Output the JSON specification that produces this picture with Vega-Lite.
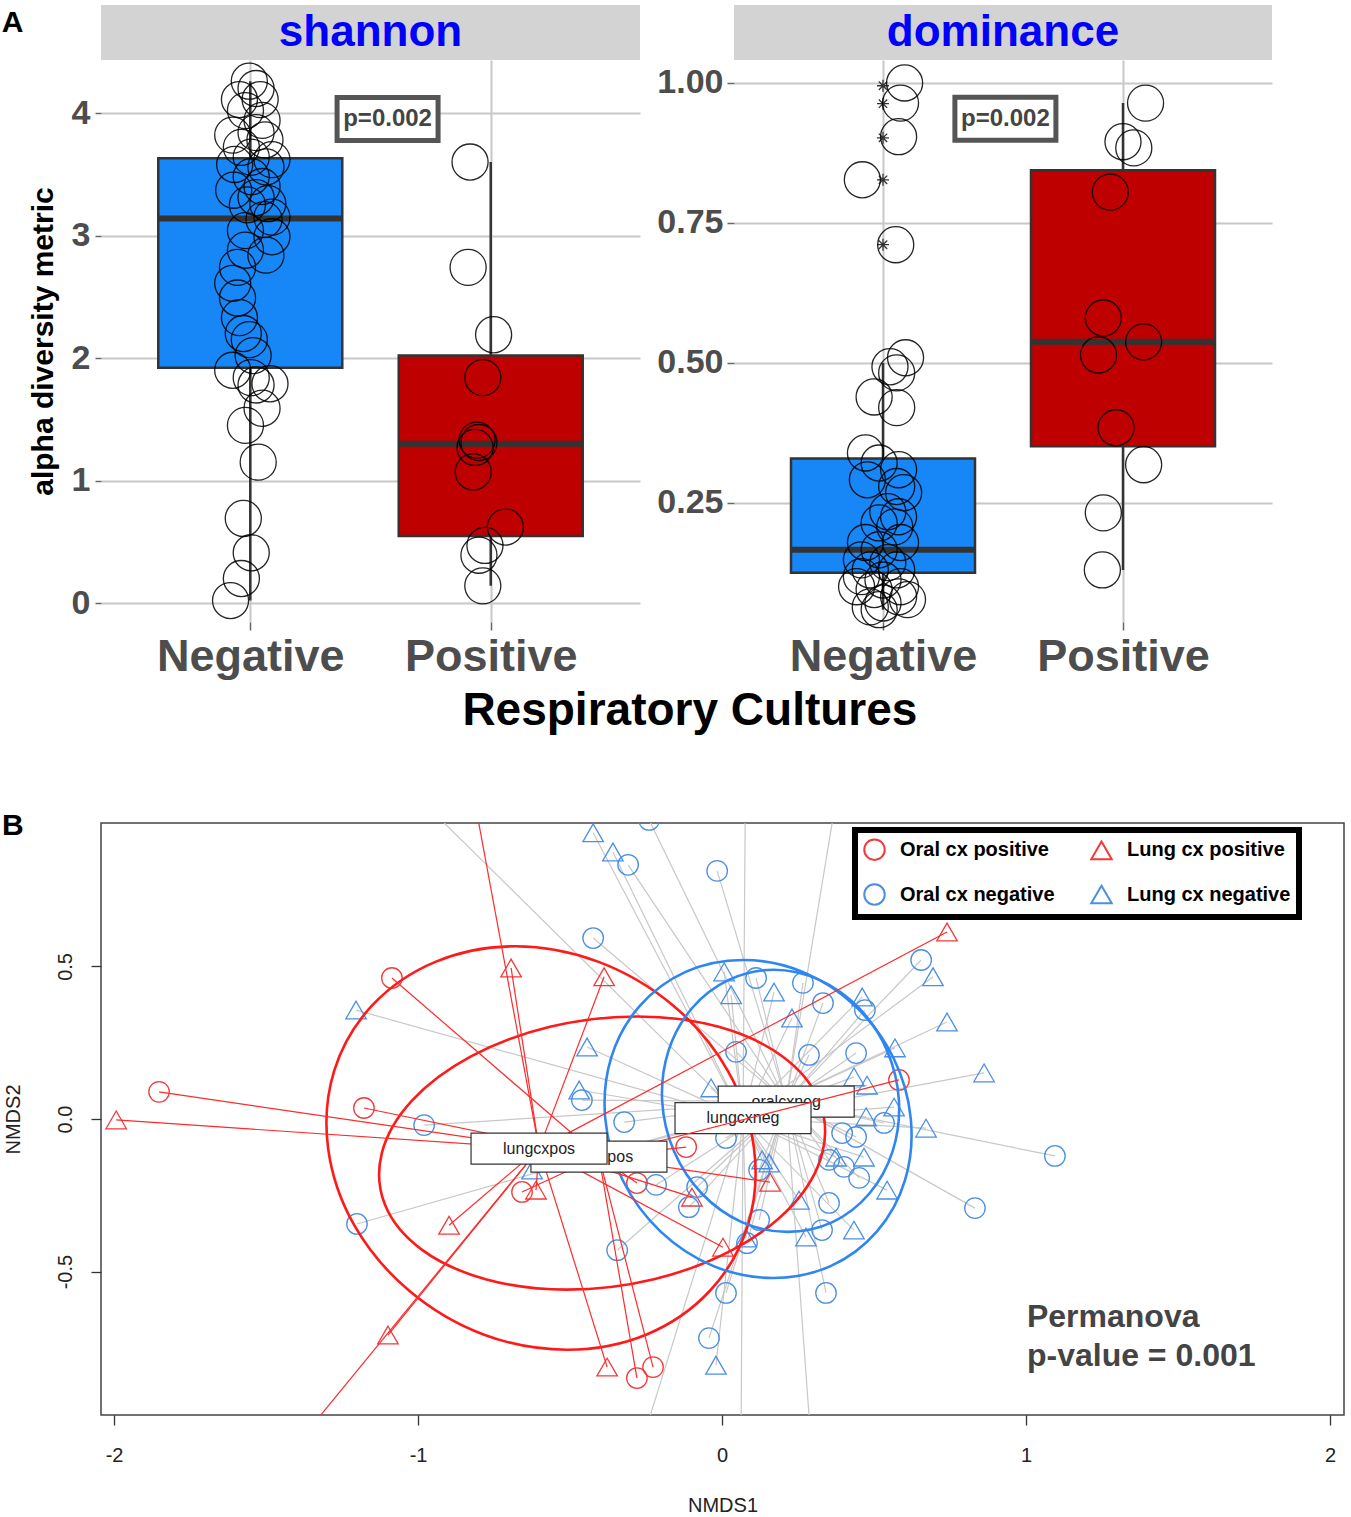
{
  "$schema": "https://vega.github.io/schema/vega-lite/v6.json",
  "background": "white",
  "padding": {"left": 1, "top": 5, "right": 2, "bottom": 2},
  "config": {
    "font": "Liberation Sans",
    "view": {"stroke": null},
    "axis": {"labelFont": "Liberation Sans", "titleFont": "Liberation Sans"},
    "title": {"font": "Liberation Sans"},
    "legend": {"labelFont": "Liberation Sans", "strokeWidth": 6}
  },
  "datasets": {
    "stats": [
      {"metric": "shannon", "culture": "Negative", "pos": 1, "lower": 0.02, "q1": 1.92, "median": 3.14, "q3": 3.63, "upper": 4.26},
      {"metric": "shannon", "culture": "Positive", "pos": 2, "lower": 0.14, "q1": 0.547, "median": 1.30, "q3": 2.02, "upper": 3.60},
      {"metric": "dominance", "culture": "Negative", "pos": 1, "lower": 0.059, "q1": 0.125, "median": 0.166, "q3": 0.329, "upper": 0.50},
      {"metric": "dominance", "culture": "Positive", "pos": 2, "lower": 0.13, "q1": 0.351, "median": 0.5375, "q3": 0.844, "upper": 0.964}
    ],
    "outliers": [
      {"metric": "dominance", "culture": "Negative", "pos": 1, "value": 0.995},
      {"metric": "dominance", "culture": "Negative", "pos": 1, "value": 0.963},
      {"metric": "dominance", "culture": "Negative", "pos": 1, "value": 0.902},
      {"metric": "dominance", "culture": "Negative", "pos": 1, "value": 0.827},
      {"metric": "dominance", "culture": "Negative", "pos": 1, "value": 0.711}
    ],
    "annot": [
      {"metric": "shannon", "label": "p=0.002", "pos": 1.571, "value": 3.951},
      {"metric": "dominance", "label": "p=0.002", "pos": 1.51, "value": 0.936}
    ],
    "apoints": [
      {"metric": "shannon", "culture": "Negative", "pos": 0.996, "value": 4.26},
      {"metric": "shannon", "culture": "Negative", "pos": 1.024, "value": 4.20},
      {"metric": "shannon", "culture": "Negative", "pos": 0.955, "value": 4.11},
      {"metric": "shannon", "culture": "Negative", "pos": 1.041, "value": 4.11},
      {"metric": "shannon", "culture": "Negative", "pos": 0.980, "value": 4.02},
      {"metric": "shannon", "culture": "Negative", "pos": 1.049, "value": 3.94},
      {"metric": "shannon", "culture": "Negative", "pos": 0.927, "value": 3.82},
      {"metric": "shannon", "culture": "Negative", "pos": 1.024, "value": 3.84},
      {"metric": "shannon", "culture": "Negative", "pos": 0.963, "value": 3.72},
      {"metric": "shannon", "culture": "Negative", "pos": 1.090, "value": 3.62},
      {"metric": "shannon", "culture": "Negative", "pos": 1.004, "value": 3.64},
      {"metric": "shannon", "culture": "Negative", "pos": 0.935, "value": 3.58},
      {"metric": "shannon", "culture": "Negative", "pos": 1.065, "value": 3.56},
      {"metric": "shannon", "culture": "Negative", "pos": 1.004, "value": 3.48},
      {"metric": "shannon", "culture": "Negative", "pos": 1.049, "value": 3.40},
      {"metric": "shannon", "culture": "Negative", "pos": 1.024, "value": 3.31},
      {"metric": "shannon", "culture": "Negative", "pos": 1.073, "value": 3.26},
      {"metric": "shannon", "culture": "Negative", "pos": 1.090, "value": 3.15},
      {"metric": "shannon", "culture": "Negative", "pos": 1.057, "value": 3.13},
      {"metric": "shannon", "culture": "Negative", "pos": 1.090, "value": 2.99},
      {"metric": "shannon", "culture": "Negative", "pos": 0.980, "value": 3.04},
      {"metric": "shannon", "culture": "Negative", "pos": 0.980, "value": 2.88},
      {"metric": "shannon", "culture": "Negative", "pos": 0.947, "value": 2.74},
      {"metric": "shannon", "culture": "Negative", "pos": 0.927, "value": 2.61},
      {"metric": "shannon", "culture": "Negative", "pos": 0.947, "value": 2.49},
      {"metric": "shannon", "culture": "Negative", "pos": 0.955, "value": 2.33},
      {"metric": "shannon", "culture": "Negative", "pos": 0.996, "value": 2.15},
      {"metric": "shannon", "culture": "Negative", "pos": 0.971, "value": 2.20},
      {"metric": "shannon", "culture": "Negative", "pos": 0.927, "value": 1.90},
      {"metric": "shannon", "culture": "Negative", "pos": 1.004, "value": 1.84},
      {"metric": "shannon", "culture": "Negative", "pos": 1.082, "value": 1.79},
      {"metric": "shannon", "culture": "Negative", "pos": 1.024, "value": 1.78},
      {"metric": "shannon", "culture": "Negative", "pos": 1.049, "value": 1.59},
      {"metric": "shannon", "culture": "Negative", "pos": 0.980, "value": 1.45},
      {"metric": "shannon", "culture": "Negative", "pos": 1.033, "value": 1.15},
      {"metric": "shannon", "culture": "Negative", "pos": 0.971, "value": 0.69},
      {"metric": "shannon", "culture": "Negative", "pos": 1.004, "value": 0.41},
      {"metric": "shannon", "culture": "Negative", "pos": 0.963, "value": 0.20},
      {"metric": "shannon", "culture": "Negative", "pos": 0.918, "value": 0.02},
      {"metric": "shannon", "culture": "Negative", "pos": 1.061, "value": 3.78},
      {"metric": "shannon", "culture": "Negative", "pos": 0.988, "value": 3.25},
      {"metric": "shannon", "culture": "Negative", "pos": 0.931, "value": 3.37},
      {"metric": "shannon", "culture": "Negative", "pos": 1.065, "value": 2.84},
      {"metric": "shannon", "culture": "Negative", "pos": 1.012, "value": 2.02},
      {"metric": "shannon", "culture": "Positive", "pos": 1.914, "value": 3.60},
      {"metric": "shannon", "culture": "Positive", "pos": 1.906, "value": 2.74},
      {"metric": "shannon", "culture": "Positive", "pos": 2.012, "value": 2.19},
      {"metric": "shannon", "culture": "Positive", "pos": 1.967, "value": 1.84},
      {"metric": "shannon", "culture": "Positive", "pos": 1.943, "value": 1.33},
      {"metric": "shannon", "culture": "Positive", "pos": 1.935, "value": 1.27},
      {"metric": "shannon", "culture": "Positive", "pos": 1.951, "value": 1.31},
      {"metric": "shannon", "culture": "Positive", "pos": 1.927, "value": 1.07},
      {"metric": "shannon", "culture": "Positive", "pos": 2.061, "value": 0.62},
      {"metric": "shannon", "culture": "Positive", "pos": 1.976, "value": 0.47},
      {"metric": "shannon", "culture": "Positive", "pos": 1.951, "value": 0.39},
      {"metric": "shannon", "culture": "Positive", "pos": 1.967, "value": 0.14},
      {"metric": "dominance", "culture": "Negative", "pos": 1.090, "value": 1.000},
      {"metric": "dominance", "culture": "Negative", "pos": 1.073, "value": 0.964},
      {"metric": "dominance", "culture": "Negative", "pos": 1.065, "value": 0.904},
      {"metric": "dominance", "culture": "Negative", "pos": 0.914, "value": 0.827},
      {"metric": "dominance", "culture": "Negative", "pos": 1.053, "value": 0.711},
      {"metric": "dominance", "culture": "Negative", "pos": 1.094, "value": 0.509},
      {"metric": "dominance", "culture": "Negative", "pos": 1.029, "value": 0.493},
      {"metric": "dominance", "culture": "Negative", "pos": 1.057, "value": 0.482},
      {"metric": "dominance", "culture": "Negative", "pos": 0.963, "value": 0.439},
      {"metric": "dominance", "culture": "Negative", "pos": 1.057, "value": 0.420},
      {"metric": "dominance", "culture": "Negative", "pos": 0.927, "value": 0.339},
      {"metric": "dominance", "culture": "Negative", "pos": 0.984, "value": 0.321},
      {"metric": "dominance", "culture": "Negative", "pos": 1.065, "value": 0.309},
      {"metric": "dominance", "culture": "Negative", "pos": 0.935, "value": 0.291},
      {"metric": "dominance", "culture": "Negative", "pos": 1.057, "value": 0.279},
      {"metric": "dominance", "culture": "Negative", "pos": 1.086, "value": 0.268},
      {"metric": "dominance", "culture": "Negative", "pos": 1.020, "value": 0.234},
      {"metric": "dominance", "culture": "Negative", "pos": 1.065, "value": 0.225},
      {"metric": "dominance", "culture": "Negative", "pos": 0.984, "value": 0.214},
      {"metric": "dominance", "culture": "Negative", "pos": 1.049, "value": 0.207},
      {"metric": "dominance", "culture": "Negative", "pos": 0.927, "value": 0.179},
      {"metric": "dominance", "culture": "Negative", "pos": 1.073, "value": 0.179},
      {"metric": "dominance", "culture": "Negative", "pos": 0.984, "value": 0.166},
      {"metric": "dominance", "culture": "Negative", "pos": 0.910, "value": 0.148},
      {"metric": "dominance", "culture": "Negative", "pos": 1.020, "value": 0.143},
      {"metric": "dominance", "culture": "Negative", "pos": 0.947, "value": 0.130},
      {"metric": "dominance", "culture": "Negative", "pos": 1.057, "value": 0.130},
      {"metric": "dominance", "culture": "Negative", "pos": 0.910, "value": 0.118},
      {"metric": "dominance", "culture": "Negative", "pos": 1.000, "value": 0.112},
      {"metric": "dominance", "culture": "Negative", "pos": 1.073, "value": 0.100},
      {"metric": "dominance", "culture": "Negative", "pos": 0.963, "value": 0.095},
      {"metric": "dominance", "culture": "Negative", "pos": 0.890, "value": 0.100},
      {"metric": "dominance", "culture": "Negative", "pos": 1.065, "value": 0.082},
      {"metric": "dominance", "culture": "Negative", "pos": 1.000, "value": 0.071},
      {"metric": "dominance", "culture": "Negative", "pos": 0.947, "value": 0.064},
      {"metric": "dominance", "culture": "Negative", "pos": 0.984, "value": 0.059},
      {"metric": "dominance", "culture": "Negative", "pos": 1.102, "value": 0.077},
      {"metric": "dominance", "culture": "Positive", "pos": 2.094, "value": 0.964},
      {"metric": "dominance", "culture": "Positive", "pos": 2.000, "value": 0.895},
      {"metric": "dominance", "culture": "Positive", "pos": 2.045, "value": 0.884},
      {"metric": "dominance", "culture": "Positive", "pos": 1.947, "value": 0.805},
      {"metric": "dominance", "culture": "Positive", "pos": 1.918, "value": 0.580},
      {"metric": "dominance", "culture": "Positive", "pos": 2.086, "value": 0.5375},
      {"metric": "dominance", "culture": "Positive", "pos": 1.898, "value": 0.514},
      {"metric": "dominance", "culture": "Positive", "pos": 1.971, "value": 0.384},
      {"metric": "dominance", "culture": "Positive", "pos": 2.086, "value": 0.318},
      {"metric": "dominance", "culture": "Positive", "pos": 1.918, "value": 0.232},
      {"metric": "dominance", "culture": "Positive", "pos": 1.914, "value": 0.130}
    ],
    "centroids": [
      {"label": "lungcxpos", "grp": "Lung cx positive", "NMDS1": -0.602, "NMDS2": -0.097},
      {"label": "oralcxpos", "grp": "Oral cx positive", "NMDS1": -0.405, "NMDS2": -0.123},
      {"label": "lungcxneg", "grp": "Lung cx negative", "NMDS1": 0.069, "NMDS2": 0.003},
      {"label": "oralcxneg", "grp": "Oral cx negative", "NMDS1": 0.211, "NMDS2": 0.057}
    ],
    "permanova": [
      {"line": "Permanova", "NMDS1": 1.003, "NMDS2": -0.649},
      {"line": "p-value = 0.001", "NMDS1": 1.003, "NMDS2": -0.777}
    ],
    "ellipses": [
      {"ell": "lungcxpos", "side": "pos", "i": 0, "NMDS1": 0.105, "NMDS2": -0.095},
      {"ell": "lungcxpos", "side": "pos", "i": 1, "NMDS1": 0.019, "NMDS2": 0.158},
      {"ell": "lungcxpos", "side": "pos", "i": 2, "NMDS1": -0.161, "NMDS2": 0.372},
      {"ell": "lungcxpos", "side": "pos", "i": 3, "NMDS1": -0.406, "NMDS2": 0.515},
      {"ell": "lungcxpos", "side": "pos", "i": 4, "NMDS1": -0.681, "NMDS2": 0.566},
      {"ell": "lungcxpos", "side": "pos", "i": 5, "NMDS1": -0.943, "NMDS2": 0.515},
      {"ell": "lungcxpos", "side": "pos", "i": 6, "NMDS1": -1.151, "NMDS2": 0.372},
      {"ell": "lungcxpos", "side": "pos", "i": 7, "NMDS1": -1.276, "NMDS2": 0.158},
      {"ell": "lungcxpos", "side": "pos", "i": 8, "NMDS1": -1.296, "NMDS2": -0.095},
      {"ell": "lungcxpos", "side": "pos", "i": 9, "NMDS1": -1.210, "NMDS2": -0.348},
      {"ell": "lungcxpos", "side": "pos", "i": 10, "NMDS1": -1.030, "NMDS2": -0.562},
      {"ell": "lungcxpos", "side": "pos", "i": 11, "NMDS1": -0.785, "NMDS2": -0.706},
      {"ell": "lungcxpos", "side": "pos", "i": 12, "NMDS1": -0.510, "NMDS2": -0.756},
      {"ell": "lungcxpos", "side": "pos", "i": 13, "NMDS1": -0.248, "NMDS2": -0.706},
      {"ell": "lungcxpos", "side": "pos", "i": 14, "NMDS1": -0.039, "NMDS2": -0.562},
      {"ell": "lungcxpos", "side": "pos", "i": 15, "NMDS1": 0.085, "NMDS2": -0.348},
      {"ell": "oralcxpos", "side": "pos", "i": 0, "NMDS1": 0.330, "NMDS2": -0.111},
      {"ell": "oralcxpos", "side": "pos", "i": 1, "NMDS1": 0.319, "NMDS2": 0.060},
      {"ell": "oralcxpos", "side": "pos", "i": 2, "NMDS1": 0.199, "NMDS2": 0.205},
      {"ell": "oralcxpos", "side": "pos", "i": 3, "NMDS1": -0.011, "NMDS2": 0.302},
      {"ell": "oralcxpos", "side": "pos", "i": 4, "NMDS1": -0.280, "NMDS2": 0.336},
      {"ell": "oralcxpos", "side": "pos", "i": 5, "NMDS1": -0.566, "NMDS2": 0.302},
      {"ell": "oralcxpos", "side": "pos", "i": 6, "NMDS1": -0.826, "NMDS2": 0.205},
      {"ell": "oralcxpos", "side": "pos", "i": 7, "NMDS1": -1.020, "NMDS2": 0.060},
      {"ell": "oralcxpos", "side": "pos", "i": 8, "NMDS1": -1.119, "NMDS2": -0.111},
      {"ell": "oralcxpos", "side": "pos", "i": 9, "NMDS1": -1.108, "NMDS2": -0.283},
      {"ell": "oralcxpos", "side": "pos", "i": 10, "NMDS1": -0.988, "NMDS2": -0.428},
      {"ell": "oralcxpos", "side": "pos", "i": 11, "NMDS1": -0.778, "NMDS2": -0.525},
      {"ell": "oralcxpos", "side": "pos", "i": 12, "NMDS1": -0.510, "NMDS2": -0.559},
      {"ell": "oralcxpos", "side": "pos", "i": 13, "NMDS1": -0.224, "NMDS2": -0.525},
      {"ell": "oralcxpos", "side": "pos", "i": 14, "NMDS1": 0.036, "NMDS2": -0.428},
      {"ell": "oralcxpos", "side": "pos", "i": 15, "NMDS1": 0.231, "NMDS2": -0.283},
      {"ell": "lungcxneg", "side": "neg", "i": 0, "NMDS1": 0.621, "NMDS2": 0.000},
      {"ell": "lungcxneg", "side": "neg", "i": 1, "NMDS1": 0.564, "NMDS2": 0.200},
      {"ell": "lungcxneg", "side": "neg", "i": 2, "NMDS1": 0.439, "NMDS2": 0.369},
      {"ell": "lungcxneg", "side": "neg", "i": 3, "NMDS1": 0.265, "NMDS2": 0.482},
      {"ell": "lungcxneg", "side": "neg", "i": 4, "NMDS1": 0.069, "NMDS2": 0.521},
      {"ell": "lungcxneg", "side": "neg", "i": 5, "NMDS1": -0.120, "NMDS2": 0.482},
      {"ell": "lungcxneg", "side": "neg", "i": 6, "NMDS1": -0.272, "NMDS2": 0.369},
      {"ell": "lungcxneg", "side": "neg", "i": 7, "NMDS1": -0.365, "NMDS2": 0.200},
      {"ell": "lungcxneg", "side": "neg", "i": 8, "NMDS1": -0.384, "NMDS2": 0.000},
      {"ell": "lungcxneg", "side": "neg", "i": 9, "NMDS1": -0.327, "NMDS2": -0.200},
      {"ell": "lungcxneg", "side": "neg", "i": 10, "NMDS1": -0.202, "NMDS2": -0.369},
      {"ell": "lungcxneg", "side": "neg", "i": 11, "NMDS1": -0.028, "NMDS2": -0.482},
      {"ell": "lungcxneg", "side": "neg", "i": 12, "NMDS1": 0.168, "NMDS2": -0.521},
      {"ell": "lungcxneg", "side": "neg", "i": 13, "NMDS1": 0.357, "NMDS2": -0.482},
      {"ell": "lungcxneg", "side": "neg", "i": 14, "NMDS1": 0.509, "NMDS2": -0.369},
      {"ell": "lungcxneg", "side": "neg", "i": 15, "NMDS1": 0.602, "NMDS2": -0.200},
      {"ell": "oralcxneg", "side": "neg", "i": 0, "NMDS1": 0.582, "NMDS2": 0.059},
      {"ell": "oralcxneg", "side": "neg", "i": 1, "NMDS1": 0.543, "NMDS2": 0.224},
      {"ell": "oralcxneg", "side": "neg", "i": 2, "NMDS1": 0.451, "NMDS2": 0.363},
      {"ell": "oralcxneg", "side": "neg", "i": 3, "NMDS1": 0.320, "NMDS2": 0.456},
      {"ell": "oralcxneg", "side": "neg", "i": 4, "NMDS1": 0.169, "NMDS2": 0.489},
      {"ell": "oralcxneg", "side": "neg", "i": 5, "NMDS1": 0.022, "NMDS2": 0.456},
      {"ell": "oralcxneg", "side": "neg", "i": 6, "NMDS1": -0.099, "NMDS2": 0.363},
      {"ell": "oralcxneg", "side": "neg", "i": 7, "NMDS1": -0.176, "NMDS2": 0.224},
      {"ell": "oralcxneg", "side": "neg", "i": 8, "NMDS1": -0.197, "NMDS2": 0.059},
      {"ell": "oralcxneg", "side": "neg", "i": 9, "NMDS1": -0.158, "NMDS2": -0.106},
      {"ell": "oralcxneg", "side": "neg", "i": 10, "NMDS1": -0.066, "NMDS2": -0.245},
      {"ell": "oralcxneg", "side": "neg", "i": 11, "NMDS1": 0.065, "NMDS2": -0.338},
      {"ell": "oralcxneg", "side": "neg", "i": 12, "NMDS1": 0.215, "NMDS2": -0.370},
      {"ell": "oralcxneg", "side": "neg", "i": 13, "NMDS1": 0.363, "NMDS2": -0.338},
      {"ell": "oralcxneg", "side": "neg", "i": 14, "NMDS1": 0.484, "NMDS2": -0.245},
      {"ell": "oralcxneg", "side": "neg", "i": 15, "NMDS1": 0.561, "NMDS2": -0.106}
    ],
    "nmds": [
      {"grp": "Oral cx positive", "NMDS1": -1.086, "NMDS2": 0.462},
      {"grp": "Oral cx positive", "NMDS1": -1.852, "NMDS2": 0.089},
      {"grp": "Oral cx positive", "NMDS1": -1.178, "NMDS2": 0.036},
      {"grp": "Oral cx positive", "NMDS1": -0.658, "NMDS2": -0.239},
      {"grp": "Oral cx positive", "NMDS1": -0.280, "NMDS2": -0.210},
      {"grp": "Oral cx positive", "NMDS1": -0.118, "NMDS2": -0.092},
      {"grp": "Oral cx positive", "NMDS1": 0.582, "NMDS2": 0.128},
      {"grp": "Oral cx positive", "NMDS1": -0.280, "NMDS2": -0.849},
      {"grp": "Oral cx positive", "NMDS1": -0.227, "NMDS2": -0.813},
      {"grp": "Lung cx positive", "NMDS1": -1.993, "NMDS2": -0.003},
      {"grp": "Lung cx positive", "NMDS1": -0.694, "NMDS2": 0.495},
      {"grp": "Lung cx positive", "NMDS1": -0.388, "NMDS2": 0.466},
      {"grp": "Lung cx positive", "NMDS1": 0.740, "NMDS2": 0.613},
      {"grp": "Lung cx positive", "NMDS1": -0.898, "NMDS2": -0.348},
      {"grp": "Lung cx positive", "NMDS1": -1.099, "NMDS2": -0.708},
      {"grp": "Lung cx positive", "NMDS1": -0.378, "NMDS2": -0.813},
      {"grp": "Lung cx positive", "NMDS1": -0.612, "NMDS2": -0.233},
      {"grp": "Lung cx positive", "NMDS1": 0.158, "NMDS2": -0.207},
      {"grp": "Lung cx positive", "NMDS1": -0.099, "NMDS2": -0.256},
      {"grp": "Lung cx positive", "NMDS1": 0.003, "NMDS2": -0.420},
      {"grp": "Lung cx positive", "NMDS1": -0.826, "NMDS2": 1.108},
      {"grp": "Lung cx positive", "NMDS1": -1.444, "NMDS2": -1.121},
      {"grp": "Oral cx negative", "NMDS1": -0.240, "NMDS2": 0.980},
      {"grp": "Oral cx negative", "NMDS1": -0.309, "NMDS2": 0.833},
      {"grp": "Oral cx negative", "NMDS1": -0.016, "NMDS2": 0.813},
      {"grp": "Oral cx negative", "NMDS1": -0.424, "NMDS2": 0.593},
      {"grp": "Oral cx negative", "NMDS1": 0.112, "NMDS2": 0.462},
      {"grp": "Oral cx negative", "NMDS1": 0.266, "NMDS2": 0.446},
      {"grp": "Oral cx negative", "NMDS1": 0.332, "NMDS2": 0.380},
      {"grp": "Oral cx negative", "NMDS1": 0.470, "NMDS2": 0.357},
      {"grp": "Oral cx negative", "NMDS1": 0.655, "NMDS2": 0.521},
      {"grp": "Oral cx negative", "NMDS1": 0.046, "NMDS2": 0.220},
      {"grp": "Oral cx negative", "NMDS1": 0.286, "NMDS2": 0.210},
      {"grp": "Oral cx negative", "NMDS1": 0.441, "NMDS2": 0.216},
      {"grp": "Oral cx negative", "NMDS1": -0.461, "NMDS2": 0.062},
      {"grp": "Oral cx negative", "NMDS1": -0.322, "NMDS2": -0.010},
      {"grp": "Oral cx negative", "NMDS1": -0.980, "NMDS2": -0.020},
      {"grp": "Oral cx negative", "NMDS1": 0.013, "NMDS2": -0.062},
      {"grp": "Oral cx negative", "NMDS1": 0.395, "NMDS2": -0.046},
      {"grp": "Oral cx negative", "NMDS1": 0.441, "NMDS2": -0.059},
      {"grp": "Oral cx negative", "NMDS1": 0.533, "NMDS2": -0.013},
      {"grp": "Oral cx negative", "NMDS1": 0.352, "NMDS2": -0.134},
      {"grp": "Oral cx negative", "NMDS1": 0.401, "NMDS2": -0.157},
      {"grp": "Oral cx negative", "NMDS1": 0.451, "NMDS2": -0.193},
      {"grp": "Oral cx negative", "NMDS1": 0.122, "NMDS2": -0.167},
      {"grp": "Oral cx negative", "NMDS1": -0.217, "NMDS2": -0.216},
      {"grp": "Oral cx negative", "NMDS1": -0.082, "NMDS2": -0.223},
      {"grp": "Oral cx negative", "NMDS1": -0.109, "NMDS2": -0.289},
      {"grp": "Oral cx negative", "NMDS1": 0.352, "NMDS2": -0.275},
      {"grp": "Oral cx negative", "NMDS1": 0.329, "NMDS2": -0.364},
      {"grp": "Oral cx negative", "NMDS1": 0.122, "NMDS2": -0.331},
      {"grp": "Oral cx negative", "NMDS1": 0.082, "NMDS2": -0.407},
      {"grp": "Oral cx negative", "NMDS1": -0.345, "NMDS2": -0.430},
      {"grp": "Oral cx negative", "NMDS1": 0.013, "NMDS2": -0.570},
      {"grp": "Oral cx negative", "NMDS1": 0.342, "NMDS2": -0.570},
      {"grp": "Oral cx negative", "NMDS1": -0.043, "NMDS2": -0.718},
      {"grp": "Oral cx negative", "NMDS1": -1.201, "NMDS2": -0.344},
      {"grp": "Oral cx negative", "NMDS1": 1.095, "NMDS2": -0.121},
      {"grp": "Oral cx negative", "NMDS1": 0.832, "NMDS2": -0.292},
      {"grp": "Oral cx negative", "NMDS1": 0.385, "NMDS2": 1.108},
      {"grp": "Oral cx negative", "NMDS1": 0.297, "NMDS2": -1.121},
      {"grp": "Lung cx negative", "NMDS1": -0.424, "NMDS2": 0.938},
      {"grp": "Lung cx negative", "NMDS1": -0.359, "NMDS2": 0.875},
      {"grp": "Lung cx negative", "NMDS1": -1.204, "NMDS2": 0.357},
      {"grp": "Lung cx negative", "NMDS1": -0.444, "NMDS2": 0.236},
      {"grp": "Lung cx negative", "NMDS1": -0.470, "NMDS2": 0.095},
      {"grp": "Lung cx negative", "NMDS1": 0.007, "NMDS2": 0.482},
      {"grp": "Lung cx negative", "NMDS1": 0.030, "NMDS2": 0.407},
      {"grp": "Lung cx negative", "NMDS1": 0.171, "NMDS2": 0.416},
      {"grp": "Lung cx negative", "NMDS1": 0.230, "NMDS2": 0.331},
      {"grp": "Lung cx negative", "NMDS1": 0.461, "NMDS2": 0.400},
      {"grp": "Lung cx negative", "NMDS1": 0.694, "NMDS2": 0.466},
      {"grp": "Lung cx negative", "NMDS1": 0.740, "NMDS2": 0.318},
      {"grp": "Lung cx negative", "NMDS1": 0.569, "NMDS2": 0.233},
      {"grp": "Lung cx negative", "NMDS1": 0.862, "NMDS2": 0.151},
      {"grp": "Lung cx negative", "NMDS1": 0.434, "NMDS2": 0.138},
      {"grp": "Lung cx negative", "NMDS1": 0.477, "NMDS2": 0.111},
      {"grp": "Lung cx negative", "NMDS1": 0.566, "NMDS2": 0.039},
      {"grp": "Lung cx negative", "NMDS1": 0.671, "NMDS2": -0.030},
      {"grp": "Lung cx negative", "NMDS1": 0.474, "NMDS2": 0.007},
      {"grp": "Lung cx negative", "NMDS1": -0.036, "NMDS2": 0.102},
      {"grp": "Lung cx negative", "NMDS1": 0.132, "NMDS2": -0.134},
      {"grp": "Lung cx negative", "NMDS1": 0.375, "NMDS2": -0.125},
      {"grp": "Lung cx negative", "NMDS1": 0.467, "NMDS2": -0.125},
      {"grp": "Lung cx negative", "NMDS1": 0.253, "NMDS2": -0.266},
      {"grp": "Lung cx negative", "NMDS1": 0.276, "NMDS2": -0.387},
      {"grp": "Lung cx negative", "NMDS1": 0.434, "NMDS2": -0.364},
      {"grp": "Lung cx negative", "NMDS1": 0.543, "NMDS2": -0.233},
      {"grp": "Lung cx negative", "NMDS1": 0.079, "NMDS2": -0.390},
      {"grp": "Lung cx negative", "NMDS1": -0.020, "NMDS2": -0.807},
      {"grp": "Lung cx negative", "NMDS1": -0.625, "NMDS2": -0.167},
      {"grp": "Lung cx negative", "NMDS1": 0.155, "NMDS2": -0.144},
      {"grp": "Lung cx negative", "NMDS1": -1.054, "NMDS2": 1.108},
      {"grp": "Lung cx negative", "NMDS1": 0.077, "NMDS2": 1.108},
      {"grp": "Lung cx negative", "NMDS1": -0.283, "NMDS2": -1.121},
      {"grp": "Lung cx negative", "NMDS1": 0.062, "NMDS2": -1.121}
    ]
  },
  "resolve": {"scale": {"x": "independent", "y": "independent", "color": "independent", "shape": "independent", "size": "independent"}},
  "spacing": 76,
  "vconcat": [
    {
      "spacing": 16,
      "resolve": {"scale": {"x": "independent", "y": "independent"}},
      "title": {"text": "Respiratory Cultures", "orient": "bottom", "anchor": "middle", "frame": "bounds", "dx": 53, "fontSize": 46, "fontWeight": "bold", "color": "black", "offset": 10, "baseline": "top"},
      "hconcat": [
        {
          "bounds": "flush",
          "spacing": 0,
          "title": {"text": "A", "orient": "left", "anchor": "end", "angle": 0, "align": "right", "baseline": "top", "fontSize": 30, "fontWeight": "bold", "color": "black", "offset": -17, "dy": 3},
          "vconcat": [
            {
              "width": 539, "height": 55,
              "view": {"fill": "#D3D3D3", "stroke": null},
              "data": {"values": [{"metric": "shannon"}]},
              "mark": {"type": "text", "fontSize": 44, "fontWeight": "bold", "color": "#0000FF", "align": "center", "baseline": "middle"},
              "encoding": {"text": {"field": "metric"}}
            },
            {
              "width": 539, "height": 562,
              "layer": [
                {
                  "data": {"name": "stats"},
                  "transform": [{"filter": "datum.metric == 'shannon'"}],
                  "mark": {"type": "rule", "color": "#333333", "strokeWidth": 2.5},
                  "encoding": {
                    "x": {"field": "pos", "type": "quantitative", "scale": {"domain": [0.4, 2.6], "nice": false, "zero": false}, "axis": {"title": null, "values": [1, 2], "labelExpr": "datum.value == 1 ? 'Negative' : 'Positive'", "labelFontSize": 45, "labelFontWeight": "bold", "labelColor": "#4D4D4D", "labelPadding": 4, "labelLimit": 400, "labelFlush": false, "labelOverlap": false, "tickSize": 8, "tickColor": "#666666", "tickWidth": 1.5, "domain": false, "grid": true, "gridColor": "#C8C8C8", "gridWidth": 2}},
                    "y": {"field": "lower", "type": "quantitative", "scale": {"domain": [-0.155, 4.433], "nice": false, "zero": false}, "axis": {"title": "alpha diversity metric", "values": [0, 1, 2, 3, 4], "format": "d", "titleFontSize": 30, "titleFontWeight": "bold", "titleColor": "black", "titlePadding": 13, "labelFontSize": 34, "labelFontWeight": "bold", "labelColor": "#4D4D4D", "labelPadding": 5, "labelFlush": false, "tickSize": 6, "tickColor": "#666666", "tickWidth": 1.5, "domain": false, "grid": true, "gridColor": "#C8C8C8", "gridWidth": 2}},
                    "y2": {"field": "upper"}
                  }
                },
                {
                  "data": {"name": "stats"},
                  "transform": [{"filter": "datum.metric == 'shannon'"}],
                  "mark": {"type": "bar", "width": 184, "stroke": "#333333", "strokeWidth": 2.5, "opacity": 1},
                  "encoding": {
                    "x": {"field": "pos", "type": "quantitative"},
                    "y": {"field": "q1", "type": "quantitative", "axis": {"title": "alpha diversity metric"}},
                    "y2": {"field": "q3"},
                    "color": {"field": "culture", "type": "nominal", "scale": {"domain": ["Negative", "Positive"], "range": ["#1786F7", "#BF0000"]}, "legend": null}
                  }
                },
                {
                  "data": {"name": "stats"},
                  "transform": [{"filter": "datum.metric == 'shannon'"}],
                  "mark": {"type": "tick", "orient": "horizontal", "size": 184, "thickness": 6, "color": "#333333", "opacity": 1},
                  "encoding": {
                    "x": {"field": "pos", "type": "quantitative"},
                    "y": {"field": "median", "type": "quantitative", "axis": {"title": "alpha diversity metric"}}
                  }
                },
                {
                  "data": {"name": "apoints"},
                  "transform": [{"filter": "datum.metric == 'shannon'"}],
                  "mark": {"type": "point", "shape": "circle", "filled": false, "size": 1300, "stroke": "black", "strokeWidth": 1.3, "opacity": 0.85},
                  "encoding": {
                    "x": {"field": "pos", "type": "quantitative"},
                    "y": {"field": "value", "type": "quantitative", "axis": {"title": "alpha diversity metric"}}
                  }
                },
                {
                  "data": {"name": "annot"},
                  "transform": [{"filter": "datum.metric == 'shannon'"}],
                  "mark": {"type": "point", "shape": "M-1,-0.4257L1,-0.4257L1,0.4257L-1,0.4257Z", "size": 10201, "filled": true, "fill": "white", "stroke": "#555555", "strokeWidth": 5, "opacity": 1},
                  "encoding": {
                    "x": {"field": "pos", "type": "quantitative"},
                    "y": {"field": "value", "type": "quantitative", "axis": {"title": "alpha diversity metric"}}
                  }
                },
                {
                  "data": {"name": "annot"},
                  "transform": [{"filter": "datum.metric == 'shannon'"}],
                  "mark": {"type": "text", "fontSize": 24, "fontWeight": "bold", "color": "#444444", "align": "center", "baseline": "middle"},
                  "encoding": {
                    "x": {"field": "pos", "type": "quantitative"},
                    "y": {"field": "value", "type": "quantitative", "axis": {"title": "alpha diversity metric"}},
                    "text": {"field": "label"}
                  }
                }
              ]
            }
          ]
        },
        {
          "bounds": "flush",
          "spacing": 0,
          "vconcat": [
            {
              "width": 538, "height": 55,
              "view": {"fill": "#D3D3D3", "stroke": null},
              "data": {"values": [{"metric": "dominance"}]},
              "mark": {"type": "text", "fontSize": 44, "fontWeight": "bold", "color": "#0000FF", "align": "center", "baseline": "middle"},
              "encoding": {"text": {"field": "metric"}}
            },
            {
              "width": 538, "height": 562,
              "layer": [
                {
                  "data": {"name": "stats"},
                  "transform": [{"filter": "datum.metric == 'dominance'"}],
                  "mark": {"type": "rule", "color": "#333333", "strokeWidth": 2.5},
                  "encoding": {
                    "x": {"field": "pos", "type": "quantitative", "scale": {"domain": [0.4, 2.6], "nice": false, "zero": false}, "axis": {"title": null, "values": [1, 2], "labelExpr": "datum.value == 1 ? 'Negative' : 'Positive'", "labelFontSize": 45, "labelFontWeight": "bold", "labelColor": "#4D4D4D", "labelPadding": 4, "labelLimit": 400, "labelFlush": false, "labelOverlap": false, "tickSize": 8, "tickColor": "#666666", "tickWidth": 1.5, "domain": false, "grid": true, "gridColor": "#C8C8C8", "gridWidth": 2}},
                    "y": {"field": "lower", "type": "quantitative", "scale": {"domain": [0.037, 1.041], "nice": false, "zero": false}, "axis": {"title": null, "values": [0.25, 0.5, 0.75, 1], "format": ".2f", "labelFontSize": 34, "labelFontWeight": "bold", "labelColor": "#4D4D4D", "labelPadding": 4, "labelFlush": false, "tickSize": 7, "tickColor": "#666666", "tickWidth": 1.5, "domain": false, "grid": true, "gridColor": "#C8C8C8", "gridWidth": 2}},
                    "y2": {"field": "upper"}
                  }
                },
                {
                  "data": {"name": "stats"},
                  "transform": [{"filter": "datum.metric == 'dominance'"}],
                  "mark": {"type": "bar", "width": 184, "stroke": "#333333", "strokeWidth": 2.5, "opacity": 1},
                  "encoding": {
                    "x": {"field": "pos", "type": "quantitative"},
                    "y": {"field": "q1", "type": "quantitative", "axis": {"title": null}},
                    "y2": {"field": "q3"},
                    "color": {"field": "culture", "type": "nominal", "scale": {"domain": ["Negative", "Positive"], "range": ["#1786F7", "#BF0000"]}, "legend": null}
                  }
                },
                {
                  "data": {"name": "stats"},
                  "transform": [{"filter": "datum.metric == 'dominance'"}],
                  "mark": {"type": "tick", "orient": "horizontal", "size": 184, "thickness": 6, "color": "#333333", "opacity": 1},
                  "encoding": {
                    "x": {"field": "pos", "type": "quantitative"},
                    "y": {"field": "median", "type": "quantitative", "axis": {"title": null}}
                  }
                },
                {
                  "data": {"name": "outliers"},
                  "mark": {"type": "point", "shape": "M-1,0L1,0M0,-1L0,1M-0.7,-0.7L0.7,0.7M-0.7,0.7L0.7,-0.7", "size": 144, "filled": false, "stroke": "#333333", "strokeWidth": 1.3, "opacity": 1},
                  "encoding": {
                    "x": {"field": "pos", "type": "quantitative"},
                    "y": {"field": "value", "type": "quantitative", "axis": {"title": null}}
                  }
                },
                {
                  "data": {"name": "apoints"},
                  "transform": [{"filter": "datum.metric == 'dominance'"}],
                  "mark": {"type": "point", "shape": "circle", "filled": false, "size": 1300, "stroke": "black", "strokeWidth": 1.3, "opacity": 0.85},
                  "encoding": {
                    "x": {"field": "pos", "type": "quantitative"},
                    "y": {"field": "value", "type": "quantitative", "axis": {"title": null}}
                  }
                },
                {
                  "data": {"name": "annot"},
                  "transform": [{"filter": "datum.metric == 'dominance'"}],
                  "mark": {"type": "point", "shape": "M-1,-0.4257L1,-0.4257L1,0.4257L-1,0.4257Z", "size": 10201, "filled": true, "fill": "white", "stroke": "#555555", "strokeWidth": 5, "opacity": 1},
                  "encoding": {
                    "x": {"field": "pos", "type": "quantitative"},
                    "y": {"field": "value", "type": "quantitative", "axis": {"title": null}}
                  }
                },
                {
                  "data": {"name": "annot"},
                  "transform": [{"filter": "datum.metric == 'dominance'"}],
                  "mark": {"type": "text", "fontSize": 24, "fontWeight": "bold", "color": "#444444", "align": "center", "baseline": "middle"},
                  "encoding": {
                    "x": {"field": "pos", "type": "quantitative"},
                    "y": {"field": "value", "type": "quantitative", "axis": {"title": null}},
                    "text": {"field": "label"}
                  }
                }
              ]
            }
          ]
        }
      ]
    },
    {
      "width": 1243, "height": 592,
      "view": {"stroke": "#444444", "strokeWidth": 1.5},
      "title": {"text": "B", "anchor": "start", "orient": "top", "fontSize": 30, "fontWeight": "bold", "color": "black", "offset": -18, "dx": -1},
      "encoding": {
        "x": {"field": "NMDS1", "type": "quantitative", "scale": {"domain": [-2.043, 2.046], "nice": false, "zero": false}, "axis": {"title": "NMDS1", "values": [-2, -1, 0, 1, 2], "labelExpr": "'' + datum.value", "labelFontSize": 20, "labelColor": "#222222", "labelPadding": 20, "labelFlush": false, "labelOverlap": false, "tickSize": 10, "tickColor": "#333333", "tickWidth": 1.3, "domain": false, "grid": false, "titleFontSize": 20, "titleFontWeight": "normal", "titleColor": "#222222", "titlePadding": 30}},
        "y": {"field": "NMDS2", "type": "quantitative", "scale": {"domain": [-0.97, 0.97], "nice": false, "zero": false}, "axis": {"title": "NMDS2", "values": [-0.5, 0, 0.5], "labelExpr": "datum.value == 0 ? '0.0' : '' + datum.value", "labelAngle": 270, "labelAlign": "center", "labelBaseline": "bottom", "labelFontSize": 20, "labelColor": "#222222", "labelPadding": 16, "labelFlush": false, "labelOverlap": false, "tickSize": 10, "tickColor": "#333333", "tickWidth": 1.3, "domain": false, "grid": false, "titleFontSize": 20, "titleFontWeight": "normal", "titleColor": "#222222", "titlePadding": 32}}
      },
      "layer": [
        {
          "data": {"name": "nmds"},
          "transform": [
            {"filter": "datum.grp == 'Oral cx negative' || datum.grp == 'Lung cx negative'"},
            {"lookup": "grp", "from": {"data": {"name": "centroids"}, "key": "grp", "fields": ["NMDS1", "NMDS2"]}, "as": ["cx", "cy"]}
          ],
          "mark": {"type": "rule", "color": "#C8C8C8", "strokeWidth": 1.2, "clip": true},
          "encoding": {"x2": {"field": "cx"}, "y2": {"field": "cy"}}
        },
        {
          "data": {"name": "nmds"},
          "mark": {"type": "point", "filled": false, "strokeWidth": 1.3, "opacity": 1, "clip": true},
          "encoding": {
            "color": {"field": "grp", "type": "nominal", "scale": {"domain": ["Oral cx positive", "Oral cx negative", "Lung cx positive", "Lung cx negative"], "range": ["#F23A3A", "#4A8FE3", "#F23A3A", "#4A8FE3"]},
              "legend": {"title": null, "orient": "none", "legendX": 754, "legendY": 7, "columns": 2, "padding": 8, "columnPadding": 32, "rowPadding": 16, "labelOffset": 14, "labelFontSize": 20, "labelFontWeight": "bold", "labelColor": "black", "labelLimit": 400, "strokeColor": "black", "fillColor": "white", "symbolStrokeWidth": 2}},
            "shape": {"field": "grp", "type": "nominal", "scale": {"domain": ["Oral cx positive", "Oral cx negative", "Lung cx positive", "Lung cx negative"], "range": ["circle", "circle", "triangle-up", "triangle-up"]},
              "legend": {"title": null, "orient": "none", "legendX": 754, "legendY": 7, "columns": 2, "padding": 8, "columnPadding": 32, "rowPadding": 16, "labelOffset": 14, "labelFontSize": 20, "labelFontWeight": "bold", "labelColor": "black", "labelLimit": 400, "strokeColor": "black", "fillColor": "white", "symbolStrokeWidth": 2}},
            "size": {"field": "grp", "type": "nominal", "scale": {"domain": ["Oral cx positive", "Oral cx negative", "Lung cx positive", "Lung cx negative"], "range": [420, 420, 560, 560]},
              "legend": {"title": null, "orient": "none", "legendX": 754, "legendY": 7, "columns": 2, "padding": 8, "columnPadding": 32, "rowPadding": 16, "labelOffset": 14, "labelFontSize": 20, "labelFontWeight": "bold", "labelColor": "black", "labelLimit": 400, "strokeColor": "black", "fillColor": "white", "symbolStrokeWidth": 2}}
          }
        },
        {
          "data": {"name": "ellipses"},
          "transform": [{"filter": "datum.side == 'pos'"}],
          "mark": {"type": "line", "color": "#FF1A1A", "strokeWidth": 2.6, "interpolate": "cardinal-closed", "clip": true},
          "encoding": {"order": {"field": "i", "type": "quantitative"}, "detail": {"field": "ell"}}
        },
        {
          "data": {"name": "ellipses"},
          "transform": [{"filter": "datum.side == 'neg'"}],
          "mark": {"type": "line", "color": "#2F86F0", "strokeWidth": 2.6, "interpolate": "cardinal-closed", "clip": true},
          "encoding": {"order": {"field": "i", "type": "quantitative"}, "detail": {"field": "ell"}}
        },
        {
          "data": {"name": "centroids"},
          "transform": [{"filter": "datum.label == 'oralcxneg'"}],
          "mark": {"type": "point", "shape": "M-1,-0.228L1,-0.228L1,0.228L-1,0.228Z", "size": 18496, "filled": true, "fill": "white", "stroke": "#333333", "strokeWidth": 1.2, "opacity": 1, "clip": true}
        },
        {
          "data": {"name": "centroids"},
          "transform": [{"filter": "datum.label == 'oralcxneg'"}],
          "mark": {"type": "text", "fontSize": 16, "color": "#222222", "align": "center", "baseline": "middle"},
          "encoding": {"text": {"field": "label"}}
        },
        {
          "data": {"name": "centroids"},
          "transform": [{"filter": "datum.label == 'lungcxneg'"}],
          "mark": {"type": "point", "shape": "M-1,-0.228L1,-0.228L1,0.228L-1,0.228Z", "size": 18496, "filled": true, "fill": "white", "stroke": "#333333", "strokeWidth": 1.2, "opacity": 1, "clip": true}
        },
        {
          "data": {"name": "centroids"},
          "transform": [{"filter": "datum.label == 'lungcxneg'"}],
          "mark": {"type": "text", "fontSize": 16, "color": "#222222", "align": "center", "baseline": "middle"},
          "encoding": {"text": {"field": "label"}}
        },
        {
          "data": {"name": "nmds"},
          "transform": [
            {"filter": "datum.grp == 'Oral cx positive' || datum.grp == 'Lung cx positive'"},
            {"lookup": "grp", "from": {"data": {"name": "centroids"}, "key": "grp", "fields": ["NMDS1", "NMDS2"]}, "as": ["cx", "cy"]}
          ],
          "mark": {"type": "rule", "color": "#FF2A2A", "strokeWidth": 1.2, "clip": true},
          "encoding": {"x2": {"field": "cx"}, "y2": {"field": "cy"}}
        },
        {
          "data": {"name": "centroids"},
          "transform": [{"filter": "datum.label == 'oralcxpos'"}],
          "mark": {"type": "point", "shape": "M-1,-0.228L1,-0.228L1,0.228L-1,0.228Z", "size": 18496, "filled": true, "fill": "white", "stroke": "#333333", "strokeWidth": 1.2, "opacity": 1, "clip": true}
        },
        {
          "data": {"name": "centroids"},
          "transform": [{"filter": "datum.label == 'oralcxpos'"}],
          "mark": {"type": "text", "fontSize": 16, "color": "#222222", "align": "center", "baseline": "middle"},
          "encoding": {"text": {"field": "label"}}
        },
        {
          "data": {"name": "centroids"},
          "transform": [{"filter": "datum.label == 'lungcxpos'"}],
          "mark": {"type": "point", "shape": "M-1,-0.228L1,-0.228L1,0.228L-1,0.228Z", "size": 18496, "filled": true, "fill": "white", "stroke": "#333333", "strokeWidth": 1.2, "opacity": 1, "clip": true}
        },
        {
          "data": {"name": "centroids"},
          "transform": [{"filter": "datum.label == 'lungcxpos'"}],
          "mark": {"type": "text", "fontSize": 16, "color": "#222222", "align": "center", "baseline": "middle"},
          "encoding": {"text": {"field": "label"}}
        },
        {
          "data": {"name": "permanova"},
          "mark": {"type": "text", "fontSize": 32, "fontWeight": "bold", "color": "#444444", "align": "left", "baseline": "middle"},
          "encoding": {"text": {"field": "line"}}
        }
      ]
    }
  ]
}
